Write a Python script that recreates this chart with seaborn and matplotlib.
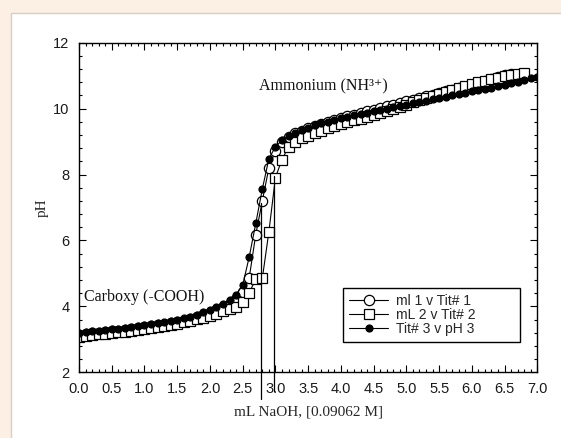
import numpy as np
import pandas as pd
import matplotlib
matplotlib.use("Agg")
import matplotlib.pyplot as plt
from matplotlib.patches import Rectangle
from matplotlib.ticker import MultipleLocator, FormatStrFormatter
from matplotlib.lines import Line2D
import seaborn as sns

# ---------------- data ----------------
step = 0.1
ph_tit1 = [3.12, 3.15, 3.18, 3.20, 3.22, 3.24, 3.26, 3.28, 3.31, 3.33,
           3.36, 3.39, 3.42, 3.45, 3.49, 3.53, 3.57, 3.62, 3.67, 3.73,
           3.80, 3.88, 3.97, 4.08, 4.22, 4.45, 4.87, 6.18, 7.20, 8.20,
           8.72, 8.98, 9.14, 9.25, 9.33, 9.40, 9.47, 9.54, 9.60, 9.66,
           9.72, 9.77, 9.82, 9.87, 9.92, 9.97, 10.02, 10.07, 10.12, 10.17,
           10.22, 10.27, 10.32, 10.37, 10.42, 10.47, 10.52, 10.57, 10.62, 10.67,
           10.72, 10.78, 10.84, 10.90, 10.96, 11.02, 11.06]
ph_tit2 = [3.08, 3.11, 3.13, 3.15, 3.17, 3.19, 3.21, 3.23, 3.26, 3.29,
           3.32, 3.35, 3.38, 3.41, 3.44, 3.48, 3.52, 3.56, 3.61, 3.66,
           3.72, 3.78, 3.85, 3.92, 3.98, 4.14, 4.42, 4.82, 4.85, 6.26,
           7.91, 8.45, 8.84, 9.00, 9.10, 9.18, 9.26, 9.33, 9.40, 9.46,
           9.52, 9.58, 9.64, 9.70, 9.75, 9.80, 9.86, 9.92, 9.98, 10.05,
           10.12, 10.19, 10.26, 10.32, 10.38, 10.44, 10.50, 10.56, 10.62, 10.68,
           10.74, 10.80, 10.85, 10.90, 10.94, 10.98, 11.02, 11.05, 11.07]
ph_tit3 = [3.18, 3.21, 3.24, 3.26, 3.28, 3.30, 3.32, 3.35, 3.37, 3.40,
           3.43, 3.46, 3.49, 3.52, 3.56, 3.60, 3.64, 3.69, 3.75, 3.82,
           3.90, 3.98, 4.08, 4.20, 4.36, 4.65, 5.50, 6.52, 7.56, 8.48,
           8.84, 9.04, 9.17, 9.27, 9.35, 9.42, 9.49, 9.55, 9.60, 9.66,
           9.72, 9.76, 9.80, 9.84, 9.88, 9.92, 9.96, 10.00, 10.04, 10.08,
           10.12, 10.16, 10.20, 10.24, 10.28, 10.32, 10.36, 10.40, 10.44, 10.48,
           10.52, 10.56, 10.60, 10.64, 10.68, 10.72, 10.77, 10.82, 10.87, 10.92,
           10.97]
labels = ["ml 1 v Tit# 1", "mL 2 v Tit# 2", "Tit# 3 v pH 3"]

vline_x = [2.78, 2.98]
vline_top = [7.15, 7.95]
vline_bottom = [1.18, 1.42]

x_ticks_major = 0.5
y_ticks_major = 2

# ---------------- figure ----------------
sns.set_style("ticks")
plt.rcParams["font.family"] = ["Liberation Sans", "DejaVu Sans"]

W, H = 561, 438
fig = plt.figure(figsize=(W / 100, H / 100), dpi=100)
fig.patch.set_facecolor("#fcefe4")
fig.add_artist(Rectangle((10.7 / W, -0.01), 1.0, 1 - 13.3 / H + 0.01,
                         transform=fig.transFigure, facecolor="white",
                         edgecolor="#d8cfc6", linewidth=1.0, zorder=0))

ax = fig.add_axes([79 / W, 1 - 372.3 / H, (537.3 - 79) / W, (372.3 - 42.7) / H])
ax.set_facecolor("white")

series = [ph_tit1, ph_tit2, ph_tit3]
styles = [dict(marker="o", markersize=7.4, markerfacecolor="white"),
          dict(marker="s", markersize=7.8, markerfacecolor="white"),
          dict(marker="o", markersize=5.0, markerfacecolor="black")]
frames = []
for lab, vals in zip(labels, series):
    frames.append(pd.DataFrame({"mL": np.round(np.arange(len(vals)) * step, 2),
                                "pH": vals, "series": lab}))
df = pd.concat(frames, ignore_index=True)

handles = []
for lab, st in zip(labels, styles):
    sub = df[df["series"] == lab]
    sns.lineplot(data=sub, x="mL", y="pH", ax=ax, color="black", linewidth=0.8,
                 markeredgecolor="black", markeredgewidth=0.9, legend=False,
                 estimator=None, sort=False, **st)
    handles.append(Line2D([], [], color="black", linewidth=0.8,
                          markeredgecolor="black", markeredgewidth=0.9, **st))

for xv, yt, yb in zip(vline_x, vline_top, vline_bottom):
    ax.plot([xv, xv], [yt, yb], color="black", linewidth=0.9, clip_on=False, zorder=5)

ax.set_xlim(0, 7)
ax.set_ylim(2, 12)
ax.xaxis.set_major_locator(MultipleLocator(x_ticks_major))
ax.xaxis.set_minor_locator(MultipleLocator(0.1))
ax.yaxis.set_major_locator(MultipleLocator(y_ticks_major))
ax.yaxis.set_minor_locator(MultipleLocator(0.4))
ax.xaxis.set_major_formatter(FormatStrFormatter("%.1f"))
ax.tick_params(which="both", direction="in", top=True, right=True,
               colors="black", labelcolor="#1a1a1a", labelsize=10.5, width=0.8)
ax.tick_params(which="major", length=5, pad=7)
ax.tick_params(which="minor", length=2.5)
for sp in ax.spines.values():
    sp.set_color("black")
    sp.set_linewidth(1.0)

ax.set_xlabel("mL NaOH, [0.09062 M]", family="Liberation Serif", fontsize=11,
              labelpad=7)
ax.set_ylabel("pH", family="Liberation Serif", fontsize=11, labelpad=3)

ax.text(0.07, 4.29, "Carboxy (-COOH)", family="Liberation Serif", fontsize=11.5,
        ha="left", va="center", color="#111111")
ax.text(3.73, 10.68, "Ammonium (NH\u00b3\u207a)", family=["Liberation Serif", "DejaVu Serif"],
        fontsize=11.5, ha="center", va="center", color="#111111")

leg = ax.legend(handles, labels, loc="upper left",
                bbox_to_anchor=((343 - 79) / (537.3 - 79), 1 - (291 - 42.7) / (372.3 - 42.7),
                                177 / (537.3 - 79), 0.01),
                mode="expand", fontsize=10, frameon=True, fancybox=False,
                edgecolor="black", framealpha=1, labelspacing=0.0,
                handlelength=2.8, handletextpad=0.6, borderpad=0.45,
                borderaxespad=0, numpoints=1)
leg.get_frame().set_linewidth(1.0)

fig.savefig("out.png", dpi=100, facecolor=fig.get_facecolor())
